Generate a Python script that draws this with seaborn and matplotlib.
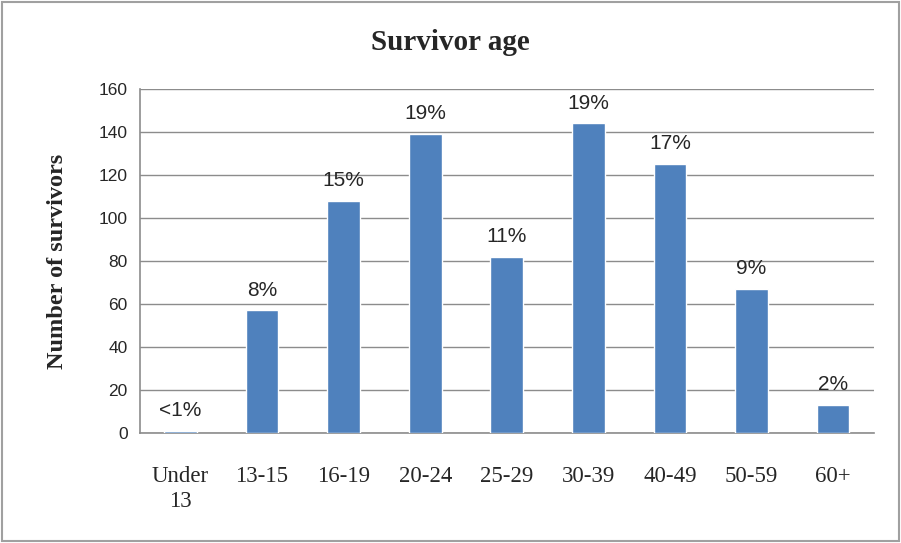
import matplotlib.pyplot as plt
import seaborn as sns
import numpy as np
import pandas as pd

# survivor counts per age group
age_groups = ['Under\n13', '13-15', '16-19', '20-24', '25-29', '30-39', '40-49', '50-59', '60+']
survivors = [1, 57, 108, 139, 82, 144, 125, 67, 13]
pct_labels = ['<1%', '8%', '15%', '19%', '11%', '19%', '17%', '9%', '2%']

df = pd.DataFrame({'age': age_groups, 'count': survivors})

sns.set_style('white')
plt.rcParams['font.family'] = ['Liberation Sans', 'DejaVu Sans']
serif = ['Liberation Serif', 'DejaVu Serif']

fig = plt.figure(figsize=(9.01, 5.43), dpi=100)
ax = fig.add_axes([0.155, 0.2026, 0.815, 0.6335])

sns.barplot(data=df, x='age', y='count', color='#4f81bd', width=0.4,
            saturation=1, ax=ax, zorder=3)

ax.set_ylim(0, 160)
ax.set_xlim(-0.5, len(age_groups) - 0.5)
ax.set_yticks(np.arange(0, 161, 20))
ax.yaxis.grid(True, color='#8c8c8c', linewidth=1, zorder=0)
ax.set_axisbelow(True)

for s in ['top', 'right']:
    ax.spines[s].set_visible(False)
for s in ['left', 'bottom']:
    ax.spines[s].set_color('#8c8c8c')
    ax.spines[s].set_linewidth(1.2)
    ax.spines[s].set_zorder(1)

# excel style ticks on category boundaries
ax.set_xticks(np.arange(-0.5, len(age_groups), 1), minor=True)
ax.tick_params(axis='x', which='minor', length=7, color='#8c8c8c', width=1.2)
ax.tick_params(axis='x', which='major', length=0, pad=24)
ax.tick_params(axis='y', length=5, color='#8c8c8c', width=1.2, labelsize=12.5)
for lab in ax.get_xticklabels():
    lab.set_family(serif)
    lab.set_fontsize(16.5)
    lab.set_linespacing(1.25)

for i, (v, t) in enumerate(zip(survivors, pct_labels)):
    ax.text(i, v + 5, t, ha='center', va='bottom', fontsize=15)

ax.set_xlabel('')
ax.set_ylabel('Number of survivors', fontsize=17.5, fontweight='bold',
              family=serif, labelpad=22)
fig.text(0.5, 0.922, 'Survivor age', ha='center', va='center', fontsize=21,
         fontweight='bold', family=serif)

fig.patches.append(plt.Rectangle((0.002, 0.004), 0.996, 0.992, transform=fig.transFigure,
                                 fill=False, edgecolor='#a0a0a0', linewidth=1.5))

fig.savefig('out.png', dpi=100)
